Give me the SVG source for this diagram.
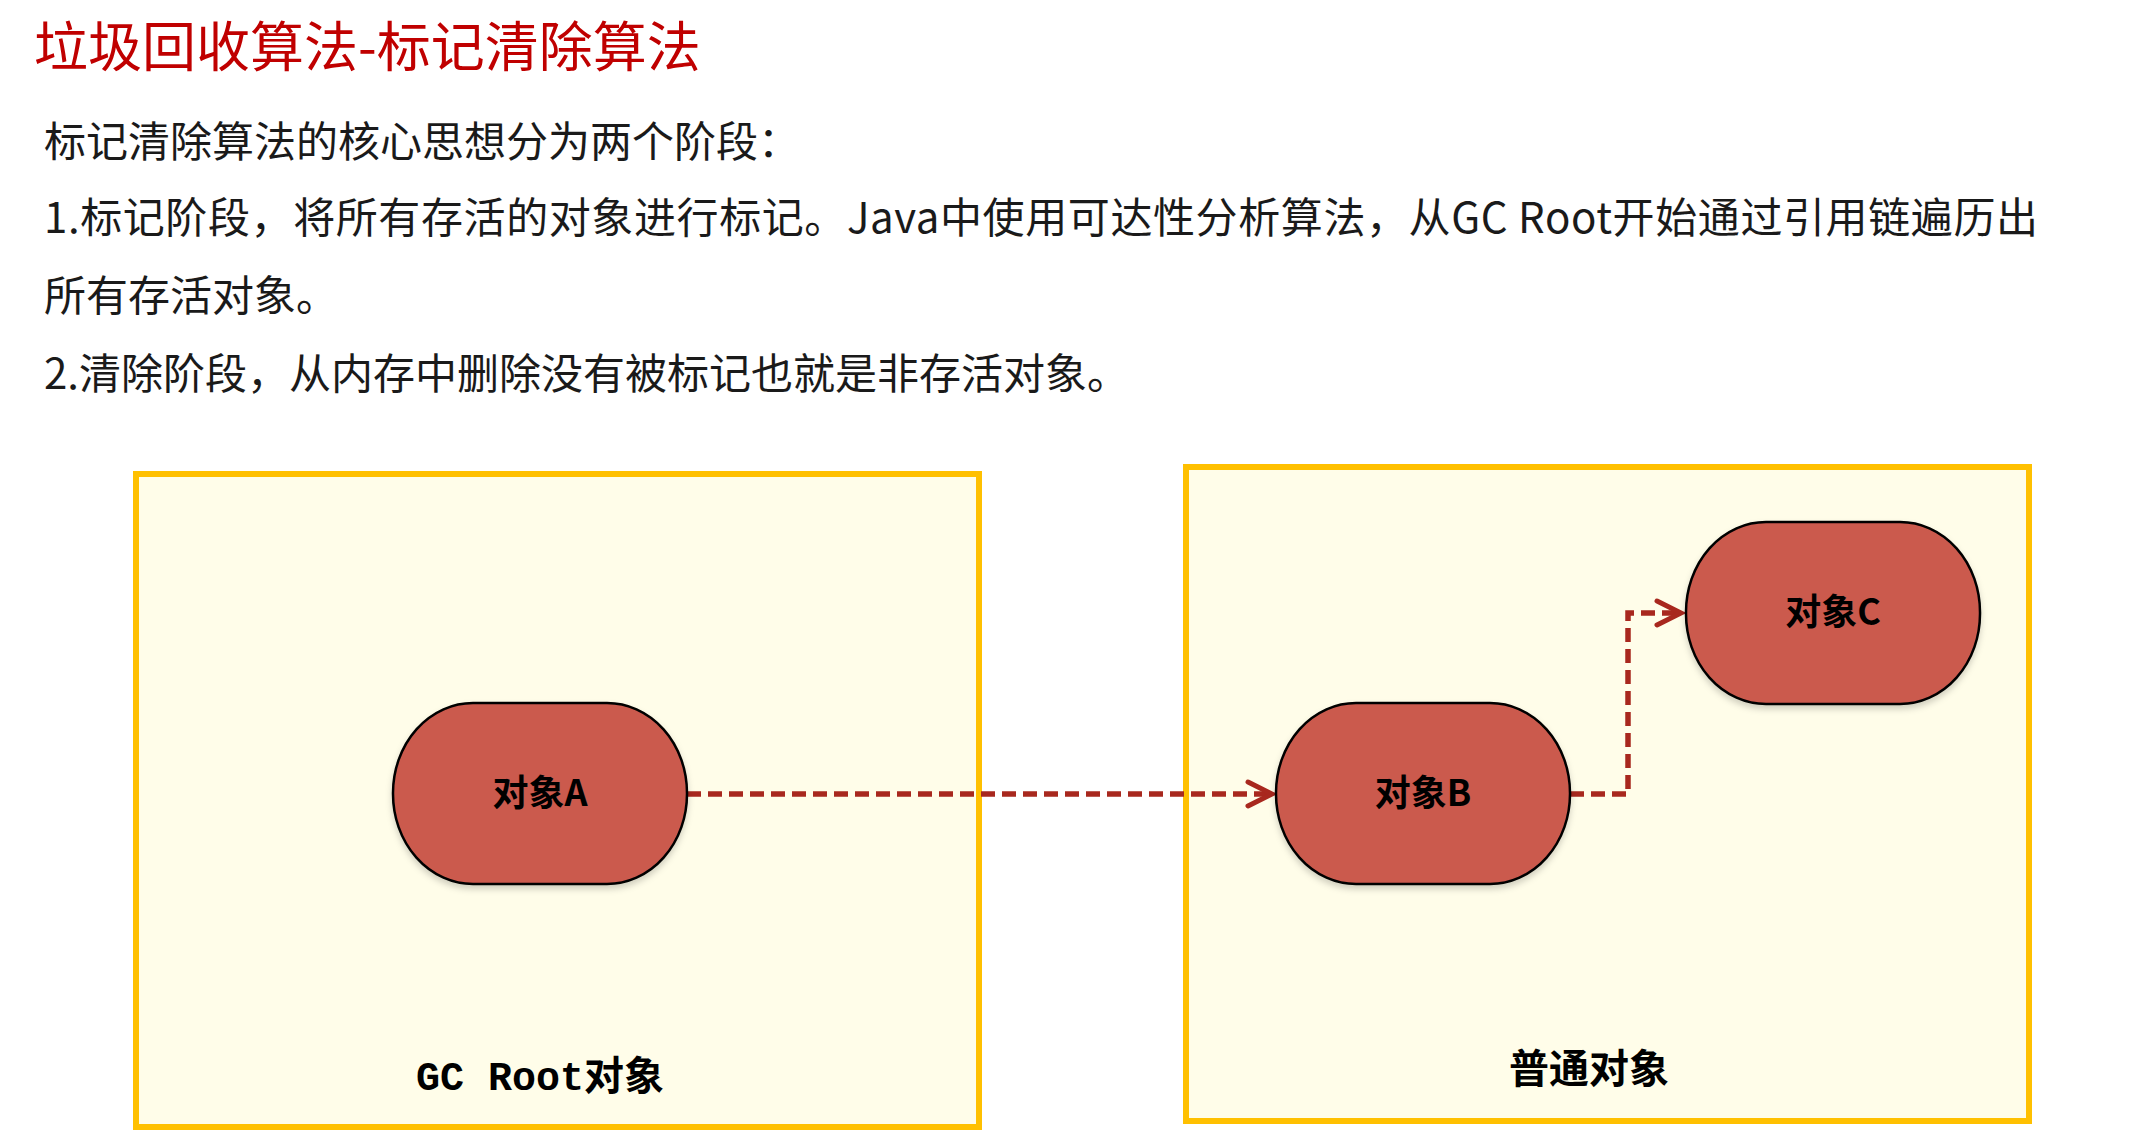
<svg xmlns="http://www.w3.org/2000/svg" width="2135" height="1139" viewBox="0 0 2135 1139">
  <style>
    .title { font-family: "Noto Sans CJK SC", "Liberation Sans", sans-serif; font-size: 54px; fill: #C00000; }
    .body { font-family: "Noto Sans CJK SC", "Liberation Sans", sans-serif; font-size: 42px; fill: #1a1a1a; }
    .box { fill: #FFFDE9; stroke: #FFC000; stroke-width: 6; }
    .node { fill: #CB5A4E; stroke: #000; stroke-width: 2.5; }
    .nodelabel { font-family: "Noto Sans CJK SC", "Liberation Sans", sans-serif; font-size: 36px; font-weight: bold; fill: #000; text-anchor: middle; }
    .boxlabel { font-family: "Liberation Mono", "Noto Sans CJK SC", monospace; font-size: 40px; font-weight: bold; fill: #000; text-anchor: middle; }
    .boxlabel2 { font-family: "Noto Sans CJK SC", "Liberation Sans", sans-serif; font-size: 40px; font-weight: bold; fill: #000; text-anchor: middle; }
    .conn { fill: none; stroke: #A8281E; stroke-width: 5.5; stroke-dasharray: 14 7; }
  </style>
  <defs>
    <marker id="arrow" markerUnits="userSpaceOnUse" markerWidth="32" markerHeight="32" refX="27" refY="15" orient="auto">
      <path d="M3,3 L27,15 L3,27" fill="none" stroke="#A8281E" stroke-width="5" stroke-linecap="round" stroke-linejoin="miter"/>
    </marker>
    <filter id="shadow" x="-10%" y="-10%" width="120%" height="130%">
      <feDropShadow dx="0" dy="4" stdDeviation="3" flood-color="#000" flood-opacity="0.18"/>
    </filter>
  </defs>
  <rect width="2135" height="1139" fill="#ffffff"/>

  <g id="title">
    <text class="title" x="34" y="67">垃圾回收算法-标记清除算法</text>
  </g>
  <g id="description">
    <text class="body" x="44" y="157">标记清除算法的核心思想分为两个阶段：</text>
    <text class="body" x="44" y="233" textLength="1994" lengthAdjust="spacing">1.标记阶段，将所有存活的对象进行标记。Java中使用可达性分析算法，从GC Root开始通过引用链遍历出</text>
    <text class="body" x="44" y="311">所有存活对象。</text>
    <text class="body" x="44" y="389">2.清除阶段，从内存中删除没有被标记也就是非存活对象。</text>
  </g>

  <g id="gcroot-box">
    <rect class="box" x="136" y="474" width="843" height="653"/>
    <text class="boxlabel" x="540" y="1090">GC Root对象</text>
  </g>
  <g id="normal-box">
    <rect class="box" x="1186" y="467" width="843" height="654"/>
    <text class="boxlabel2" x="1589" y="1083">普通对象</text>
  </g>

  <g id="connectors">
    <path class="conn" d="M687,794 L1272,794" marker-end="url(#arrow)"/>
    <path class="conn" d="M1570,794 L1628,794 L1628,613 L1681,613" marker-end="url(#arrow)"/>
  </g>

  <g id="node-a">
    <rect class="node" x="393" y="703" width="294" height="181" rx="80" ry="90" filter="url(#shadow)"/>
    <text class="nodelabel" x="540" y="806">对象A</text>
  </g>
  <g id="node-b">
    <rect class="node" x="1276" y="703" width="294" height="181" rx="80" ry="90" filter="url(#shadow)"/>
    <text class="nodelabel" x="1423" y="806">对象B</text>
  </g>
  <g id="node-c">
    <rect class="node" x="1686" y="522" width="294" height="182" rx="80" ry="90" filter="url(#shadow)"/>
    <text class="nodelabel" x="1833" y="625">对象C</text>
  </g>
</svg>
